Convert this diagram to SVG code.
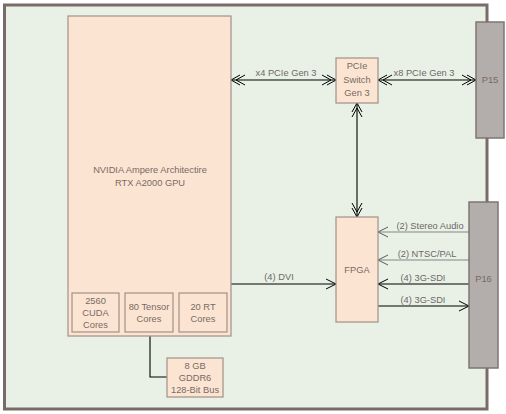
<svg xmlns="http://www.w3.org/2000/svg" width="506" height="414" viewBox="0 0 506 414">
<style>
.box{fill:#fce4d3;stroke:#a8978d;stroke-width:1.3}
.conn{fill:#b3adab;stroke:#7f7573;stroke-width:1.5}
.t{font-family:"Liberation Sans",Arial,sans-serif;font-size:9.3px;fill:#786a62;text-anchor:middle}
.lbl{font-family:"Liberation Sans",Arial,sans-serif;font-size:9.3px;fill:#6c6866;text-anchor:middle}
.ln{fill:none;stroke:#000;stroke-width:1.1}
.lg{fill:none;stroke:#858585;stroke-width:1.1}
</style>
<defs>
<marker id="dbl" markerUnits="userSpaceOnUse" viewBox="-1 -1 17 12" markerWidth="17" markerHeight="12" refX="14" refY="5" orient="auto-start-reverse" overflow="visible">
<path d="M0,0 L9,5 L0,10 M5,0 L14,5 L5,10" fill="none" stroke="#000" stroke-width="1"/>
</marker>
<marker id="one" markerUnits="userSpaceOnUse" viewBox="-1 -1 12 12" markerWidth="12" markerHeight="12" refX="10" refY="5" orient="auto" overflow="visible">
<path d="M0,0 L10,5 L0,10" fill="none" stroke="#000" stroke-width="1"/>
</marker>
<marker id="oneg" markerUnits="userSpaceOnUse" viewBox="-1 -1 12 12" markerWidth="12" markerHeight="12" refX="10" refY="5" orient="auto" overflow="visible">
<path d="M0,0 L10,5 L0,10" fill="none" stroke="#5a5a5a" stroke-width="1"/>
</marker>
</defs>
<rect x="0" y="0" width="506" height="414" fill="#fff"/>
<rect id="board" x="4.5" y="5" width="482.5" height="404" fill="#e9f1e7" stroke="#786b68" stroke-width="3"/>

<g id="connectors">
<line class="ln" x1="231" y1="80" x2="336" y2="80" marker-start="url(#dbl)" marker-end="url(#dbl)"/>
<line class="ln" x1="378" y1="80" x2="476" y2="80" marker-start="url(#dbl)" marker-end="url(#dbl)"/>
<line class="ln" x1="357" y1="103" x2="357" y2="217" marker-start="url(#dbl)" marker-end="url(#dbl)"/>
<line class="ln" x1="231" y1="284" x2="336" y2="284" marker-end="url(#one)"/>
<line class="lg" x1="469" y1="232" x2="378" y2="232" marker-end="url(#oneg)"/>
<line class="lg" x1="469" y1="260" x2="378" y2="260" marker-end="url(#oneg)"/>
<line class="ln" x1="469" y1="284" x2="378" y2="284" marker-end="url(#one)"/>
<line class="ln" x1="378" y1="306" x2="469" y2="306" marker-end="url(#one)"/>
<polyline class="ln" points="150,332 150,377 167,377"/>
<text class="lbl" x="286" y="76">x4 PCIe Gen 3</text>
<text class="lbl" x="424" y="76">x8 PCIe Gen 3</text>
<text class="lbl" x="279" y="280">(4) DVI</text>
<text class="lbl" x="430" y="229">(2) Stereo Audio</text>
<text class="lbl" x="427" y="257">(2) NTSC/PAL</text>
<text class="lbl" x="423" y="281">(4) 3G-SDI</text>
<text class="lbl" x="423" y="303">(4) 3G-SDI</text>
</g>

<g id="gpu">
<rect class="box" x="68" y="16" width="163" height="320"/>
<text class="t" x="150" y="173">NVIDIA Ampere Architectire</text>
<text class="t" x="150" y="186">RTX A2000 GPU</text>
</g>
<g id="cuda">
<rect class="box" x="72" y="293" width="47" height="39"/>
<text class="t" x="95.5" y="304">2560</text>
<text class="t" x="95.5" y="316">CUDA</text>
<text class="t" x="95.5" y="328">Cores</text>
</g>
<g id="tensor">
<rect class="box" x="125" y="293" width="48" height="39"/>
<text class="t" x="149" y="310">80 Tensor</text>
<text class="t" x="149" y="322">Cores</text>
</g>
<g id="rt">
<rect class="box" x="179" y="293" width="48" height="39"/>
<text class="t" x="203" y="310">20 RT</text>
<text class="t" x="203" y="322">Cores</text>
</g>
<g id="memory">
<rect class="box" x="167" y="358" width="56" height="39"/>
<text class="t" x="195" y="369">8 GB</text>
<text class="t" x="195" y="381">GDDR6</text>
<text class="t" x="195" y="393">128-Bit Bus</text>
</g>
<g id="pcie-switch">
<rect class="box" x="336" y="58" width="42" height="45"/>
<text class="t" x="357" y="69">PCIe</text>
<text class="t" x="357" y="83">Switch</text>
<text class="t" x="357" y="96">Gen 3</text>
</g>
<g id="fpga">
<rect class="box" x="336" y="217" width="42" height="105"/>
<text class="t" x="357" y="273">FPGA</text>
</g>
<g id="p15">
<rect class="conn" x="476" y="22" width="28" height="116"/>
<text class="t" x="490" y="83">P15</text>
</g>
<g id="p16">
<rect class="conn" x="469" y="202" width="29" height="166"/>
<text class="t" x="483.5" y="282">P16</text>
</g>
</svg>
